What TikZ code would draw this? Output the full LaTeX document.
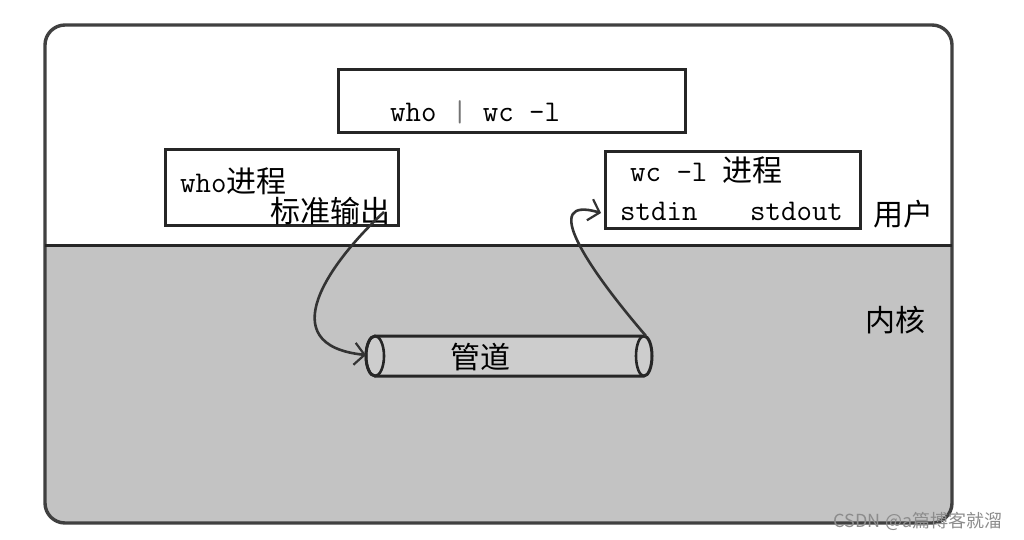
\documentclass[tikz,border=0pt]{standalone}
\usepackage{fontspec}
\newfontfamily\cjk{Noto Sans CJK SC}
\usetikzlibrary{arrows.meta}
\definecolor{kgray}{HTML}{C3C3C3}
\definecolor{pgray}{HTML}{CDCDCD}
\tikzset{
  pbox/.style={draw=black!85, line width=3pt, fill=white, inner sep=0pt},
  lbl/.style={inner sep=0pt, font=\fontsize{30}{36}\selectfont},
  flow/.style={draw=black!80, line width=2.6pt, -{Straight Barb[length=10pt,width=22pt,line width=2.2pt]}},
}
\begin{document}
\begin{tikzpicture}[x=1pt,y=-1pt]
\useasboundingbox (0,0) rectangle (1024,540);
\fill[white] (0,0) rectangle (1024,540);
% outer frame
\begin{scope}
\clip[rounded corners=20pt] (45,25) rectangle (952,523);
\fill[kgray] (45,245) rectangle (952,523);
\end{scope}
\draw[black!75, line width=3.4pt, rounded corners=20pt] (45,25) rectangle (952,523);
\draw[black!85, line width=3pt] (45,245) -- (952,245);
% boxes
\node[pbox, minimum width=347pt, minimum height=63pt] (cmd) at (511.5,101.5) {};
\node[lbl, anchor=base west] (cmdtxt) at (390,122) {\ttfamily who {\color{black!55}|} wc -l};
\node[pbox, minimum width=233pt, minimum height=75pt] (who) at (281.5,187.5) {};
\node[lbl, anchor=base west] (whotxt) at (180,193) {\ttfamily who\cjk 进程};
\node[lbl, anchor=base west] (out) at (270,222) {\cjk 标准输出};
\node[pbox, minimum width=255pt, minimum height=76pt] (wc) at (732.5,190) {};
\node[lbl, anchor=base west] (wctxt) at (630,182) {\ttfamily wc -l {\cjk 进程}};
\node[lbl, anchor=base west] (stdin) at (620,220) {\ttfamily stdin};
\node[lbl, anchor=base west] (stdout) at (750,220) {\ttfamily stdout};
% region labels
\node[lbl] (user) at (903,214) {\cjk 用户};
\node[lbl] (kernel) at (895,320) {\cjk 内核};
% pipe
\filldraw[fill=pgray, draw=black!85, line width=3pt]
  (375,336) -- (644,336) arc[start angle=-90, end angle=90, x radius=8, y radius=20]
  -- (375,376) arc[start angle=90, end angle=270, x radius=9, y radius=20] -- cycle;
\draw[black!85, line width=2.6pt] (375,356) ellipse [x radius=9, y radius=20];
\draw[black!85, line width=2.6pt] (644,336) arc[start angle=-90, end angle=-270, x radius=8, y radius=20];
\node[lbl] (pipe) at (480,357) {\cjk 管道};
\coordinate (pipeL) at (366,355);
\coordinate (pipeR) at (646,336);
\coordinate (outEnd) at (384,212);
\coordinate (inEnd) at (601,213);
% connectors
\draw[flow] (outEnd) .. controls (330,262) and (270,345) .. (pipeL);
\draw[flow] (pipeR) .. controls (585,265) and (540,195) .. (inEnd);
% watermark
\node[inner sep=0pt, text=black!45, font=\cjk\fontsize{18}{20}\selectfont] (wm) at (918,521) {CSDN @a篇博客就溜};
\end{tikzpicture}
\end{document}
